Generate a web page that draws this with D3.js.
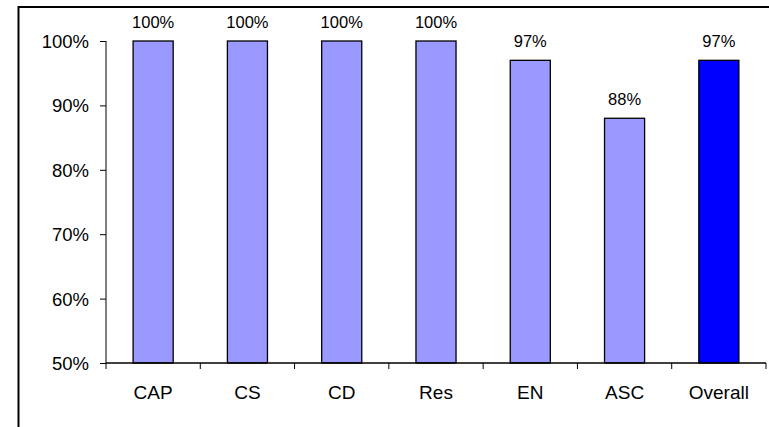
<!DOCTYPE html>
<html>
<head>
<meta charset="utf-8">
<script src="https://cdn.jsdelivr.net/npm/d3@7"></script>
<style>
  body { margin: 0; background: #fff; }
  text { font-family: "Liberation Sans", Arial, sans-serif; fill: #000; }
</style>
</head>
<body>
<svg id="chart" width="769" height="427"></svg>
<script>
const categories = ['CAP', 'CS', 'CD', 'Res', 'EN', 'ASC', 'Overall'];
const values = [1.00, 1.00, 1.00, 1.00, 0.97, 0.88, 0.97];
const colors = ['#9999ff', '#9999ff', '#9999ff', '#9999ff', '#9999ff', '#9999ff', '#0000ff'];
const yTicks = [0.5, 0.6, 0.7, 0.8, 0.9, 1.0];

const svg = d3.select('#chart');

// outer frame (runs off the right and bottom of the picture)
svg.append('path')
    .attr('d', 'M18.5,430 L18.5,7 L800,7')
    .attr('fill', 'none')
    .attr('stroke', '#000')
    .attr('stroke-width', 2);

const margin = {left: 106, top: 41, right: 3, bottom: 64};
const width = 769 - margin.left - margin.right;
const height = 427 - margin.top - margin.bottom;
const g = svg.append('g').attr('transform', 'translate(' + margin.left + ',' + margin.top + ')');

const x = d3.scaleBand().domain(categories).range([0, width]).paddingInner(0.575).paddingOuter(0.2875);
const xTick = d3.scaleBand().domain(categories).range([0, width]);
const y = d3.scaleLinear().domain([0.5, 1.0]).range([height, 0]);

// bars
g.selectAll('rect.bar')
    .data(values)
    .enter().append('rect')
    .attr('class', 'bar')
    .attr('x', (d, i) => x(categories[i]))
    .attr('y', d => y(d))
    .attr('width', x.bandwidth())
    .attr('height', d => y(0.5) - y(d))
    .attr('fill', (d, i) => colors[i])
    .attr('stroke', '#000')
    .attr('stroke-width', 1.3);

// value labels
g.selectAll('text.val')
    .data(values)
    .enter().append('text')
    .attr('class', 'val')
    .attr('x', (d, i) => x(categories[i]) + x.bandwidth() / 2)
    .attr('y', d => y(d) - 13)
    .attr('text-anchor', 'middle')
    .style('font-size', '16.5px')
    .text(d => d3.format('.0%')(d));

// y axis
const yAxis = g.append('g')
    .call(d3.axisLeft(y).tickValues(yTicks).tickFormat(d3.format('.0%')).tickSize(6).tickPadding(11));
yAxis.select('.domain').attr('stroke', '#000').attr('d', 'M0,' + y(0.5) + 'V' + y(1.0));
yAxis.selectAll('text').style('font-size', '18.5px').attr('dy', '0.35em');
yAxis.selectAll('line').attr('stroke', '#000');

// x axis with ticks between categories
const xAxis = g.append('g').attr('transform', 'translate(0,' + height + ')');
xAxis.append('line')
    .attr('x1', 0).attr('x2', width)
    .attr('stroke', '#000').attr('stroke-width', 1.3);
xAxis.selectAll('line.tick')
    .data(categories.concat(['end']))
    .enter().append('line')
    .attr('class', 'tick')
    .attr('x1', (d, i) => i < categories.length ? xTick(d) : width)
    .attr('x2', (d, i) => i < categories.length ? xTick(d) : width)
    .attr('y1', 0).attr('y2', 6)
    .attr('stroke', '#000');
xAxis.selectAll('text')
    .data(categories)
    .enter().append('text')
    .attr('x', d => xTick(d) + xTick.bandwidth() / 2)
    .attr('y', 36)
    .attr('text-anchor', 'middle')
    .style('font-size', '19px')
    .text(d => d);
</script>
</body>
</html>
